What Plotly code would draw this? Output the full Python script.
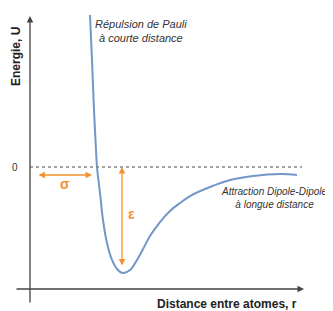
import plotly.graph_objects as go

# Potential curve (r: arbitrary distance units, U: energy in units of epsilon)
r_values = [6.0, 6.2, 6.4, 6.6, 6.7, 7.0, 7.3, 7.7, 8.2, 8.7, 9.3, 10.0, 10.7, 11.3,
            12.0, 13.0, 14.0, 15.0, 16.0, 18.0, 20.0, 22.3, 25.0, 26.7]
U_values = [1.434, 1.009, 0.538, 0.160, 0.0, -0.245, -0.50, -0.717, -0.877, -0.962,
            -1.0, -0.972, -0.877, -0.774, -0.651, -0.519, -0.415, -0.340, -0.274,
            -0.189, -0.123, -0.085, -0.066, -0.075]

zero_tick = ["0"]
x_title = "Distance entre atomes, r"
y_title = "Energie, U"
label_repulsion = "Répulsion de Pauli<br>à courte distance"
label_attraction = "Attraction Dipole-Dipole<br>à longue distance"

# the page body has an 8px margin, so the figure is drawn 8px in from the window corner
OFF = 8
W, H = 333 - OFF, 311 - OFF
PX_PER_R = 10.0
PX_PER_U = 106.0
R0_PX, U0_PY = 30 - OFF, 167 - OFF
XR = [-R0_PX / PX_PER_R, (W - R0_PX) / PX_PER_R]
YR = [-(H - U0_PY) / PX_PER_U, U0_PY / PX_PER_U]

def px2x(px):
    return (px - OFF - R0_PX) / PX_PER_R

def py2y(py):
    return (U0_PY - (py - OFF)) / PX_PER_U

blue = "#7397c9"
orange = "#f0922e"
axis_col = "#444444"
txt = "#333333"
font = "Liberation Sans, Arial, sans-serif"

fig = go.Figure()
fig.add_trace(go.Scatter(x=r_values, y=U_values, mode="lines",
                         line=dict(color=blue, width=2, shape="spline", smoothing=1.0),
                         hoverinfo="skip", showlegend=False))

shapes = [
    dict(type="line", xref="x", yref="y", x0=0, x1=px2x(302), y0=0, y1=0,
         line=dict(color="#888888", width=1.5, dash="dot")),
]

ann = []
# axes with arrows
ann.append(dict(x=0, y=py2y(16), ax=0, ay=py2y(304), xref="x", yref="y", axref="x", ayref="y",
                text="", showarrow=True, arrowhead=2, arrowsize=1, arrowwidth=1.3, arrowcolor=axis_col))
ann.append(dict(x=px2x(304), y=py2y(289), ax=px2x(15), ay=py2y(289), xref="x", yref="y",
                axref="x", ayref="y", text="", showarrow=True, arrowhead=2, arrowsize=1,
                arrowwidth=1.3, arrowcolor=axis_col))
# sigma arrow
ann.append(dict(x=px2x(92), y=py2y(175), ax=px2x(37), ay=py2y(175), xref="x", yref="y",
                axref="x", ayref="y", text="", showarrow=True, arrowhead=2, startarrowhead=2,
                arrowside="end+start", arrowsize=1, arrowwidth=1.3, arrowcolor=orange))
# epsilon arrow
ann.append(dict(x=px2x(122), y=py2y(167), ax=px2x(122), ay=py2y(267), xref="x", yref="y",
                axref="x", ayref="y", text="", showarrow=True, arrowhead=2, startarrowhead=2,
                arrowside="end+start", arrowsize=1, arrowwidth=1.3, arrowcolor=orange))

def label(px, py, text, size, color=txt, angle=0, xanchor="center"):
    ann.append(dict(x=(px - OFF) / W, y=1 - (py - OFF) / H, xref="paper", yref="paper", text=text,
                    showarrow=False, font=dict(family=font, size=size, color=color),
                    textangle=angle, xanchor=xanchor, yanchor="middle"))

label(65, 184, "<b>σ</b>", 14, orange)
label(131, 214, "<b>ε</b>", 14, orange)
label(15, 167, zero_tick[0], 10)
label(141, 31, "<i>" + label_repulsion + "</i>", 11)
label(274, 198, "<i>" + label_attraction + "</i>", 10)
label(16, 57, "<b>" + y_title + "</b>", 12, "#222222", angle=-90)
label(227, 304, "<b>" + x_title + "</b>", 12, "#222222")

fig.update_layout(
    width=W, height=H, margin=dict(l=0, r=0, t=0, b=0),
    paper_bgcolor="white", plot_bgcolor="white",
    xaxis=dict(range=XR, visible=False, fixedrange=True),
    yaxis=dict(range=YR, visible=False, fixedrange=True),
    shapes=shapes, annotations=ann, showlegend=False,
)

fig.write_html("out.html", config={"displayModeBar": False})
